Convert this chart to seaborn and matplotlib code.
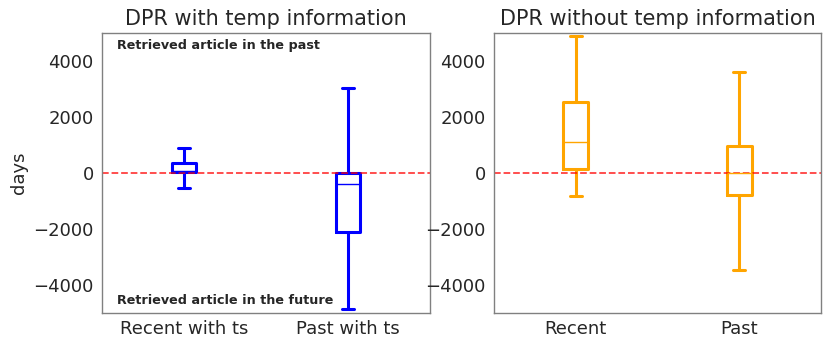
import matplotlib
matplotlib.use("Agg")
import matplotlib.pyplot as plt
import seaborn as sns
import pandas as pd

# five-number summaries: min, q1, median, q3, max
with_labels = ["Recent with ts", "Past with ts"]
recent_with_ts = [-525, 20, 60, 370, 900]
past_with_ts = [-4870, -2120, -400, 10, 3050]

without_labels = ["Recent", "Past"]
recent_without = [-830, 130, 1100, 2530, 4900]
past_without = [-3460, -780, 0, 980, 3620]

yticks = [-4000, -2000, 0, 2000, 4000]

sns.set_theme(style="white")
plt.rcParams['font.family'] = ['DejaVu Sans']

df_with = pd.DataFrame({
    "group": [with_labels[0]] * len(recent_with_ts) + [with_labels[1]] * len(past_with_ts),
    "days": recent_with_ts + past_with_ts,
})
df_without = pd.DataFrame({
    "group": [without_labels[0]] * len(recent_without) + [without_labels[1]] * len(past_without),
    "days": recent_without + past_without,
})

fig = plt.figure(figsize=(8.31, 3.49), dpi=100)
ax1 = fig.add_axes([102 / 831, 36 / 349, 328 / 831, 280 / 349])
ax2 = fig.add_axes([494 / 831, 36 / 349, 327 / 831, 280 / 349])

common = dict(fill=False, linewidth=2.2, whis=(0, 100), width=0.15,
              showfliers=False, medianprops=dict(linewidth=1))

sns.boxplot(data=df_with, x="group", y="days", color="blue", ax=ax1,
            order=with_labels, **common)
sns.boxplot(data=df_without, x="group", y="days", color="orange", ax=ax2,
            order=without_labels, **common)

for ax, title in [(ax1, "DPR with temp information"), (ax2, "DPR without temp information")]:
    ax.axhline(0, color="red", linestyle="--", linewidth=1.3, alpha=0.75)
    ax.set_ylim(-5000, 5000)
    ax.set_xlim(-0.5, 1.5)
    ax.set_yticks(yticks)
    ax.set_xlabel("")
    ax.set_title(title, fontsize=15, color="#262626")
    ax.tick_params(axis="y", which="major", labelsize=13, colors="#262626",
                   length=0, pad=6.0)
    ax.tick_params(axis="x", which="major", labelsize=13, colors="#262626",
                   length=0, pad=5.0)
    for s in ax.spines.values():
        s.set_color("#808080")
        s.set_linewidth(1)

ax1.set_ylabel("days", fontsize=13, color="#262626", labelpad=4)
ax2.set_ylabel("")

ax1.text(0.045, 0.955, "Retrieved article in the past", transform=ax1.transAxes,
         fontsize=9.2, fontweight="bold", color="#262626", va="center", ha="left")
ax1.text(0.045, 0.045, "Retrieved article in the future", transform=ax1.transAxes,
         fontsize=9.2, fontweight="bold", color="#262626", va="center", ha="left")

fig.savefig("out.png", dpi=100)
